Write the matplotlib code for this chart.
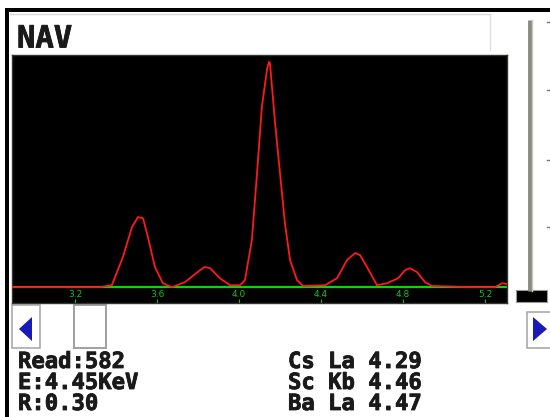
import matplotlib
matplotlib.use("Agg")
import matplotlib.pyplot as plt
import matplotlib.patheffects as pe
from matplotlib.patches import Rectangle, Polygon

# ---- data ----
energy = [2.893, 3.127, 3.322, 3.380, 3.434, 3.478, 3.507, 3.532, 3.556, 3.590,
          3.629, 3.673, 3.737, 3.810, 3.834, 3.859, 3.907, 3.956, 4.005, 4.029,
          4.063, 4.088, 4.112, 4.137, 4.146, 4.151, 4.176, 4.200, 4.224, 4.249,
          4.283, 4.312, 4.420, 4.478, 4.527, 4.566, 4.590, 4.624, 4.673, 4.722,
          4.776, 4.810, 4.834, 4.868, 4.907, 4.941, 5.127, 5.249, 5.283, 5.307]
counts = [0, 0, 0, 5, 78, 155, 181, 178, 129, 52,
          10, 0, 13, 44, 52, 49, 23, 5, 5, 18,
          122, 295, 468, 564, 582, 579, 424, 295, 165, 70,
          18, 3, 5, 23, 70, 88, 83, 52, 5, 10,
          23, 44, 49, 39, 13, 3, 0, 0, 10, 8]
tick_pos = [3.2, 3.6, 4.0, 4.4, 4.8, 5.2]
tick_labels = ["3.2", "3.6", "4.0", "4.4", "4.8", "5.2"]
title = "NAV"
left_info = ["Read:582", "E:4.45KeV", "R:0.30"]
right_info = ["Cs La 4.29", "Sc Kb 4.46", "Ba La 4.47"]

W, H = 550, 417
fig = plt.figure(figsize=(W / 100, H / 100), dpi=100)
fig.patch.set_facecolor("white")

# background UI layer in pixel coordinates
ui = fig.add_axes([0, 0, 1, 1])
ui.set_xlim(0, W)
ui.set_ylim(H, 0)
ui.axis("off")

# outer black frame
ui.add_patch(Rectangle((5, 8), W - 5, 4, color="black", lw=0))
ui.add_patch(Rectangle((5, 8), 4, H - 8, color="black", lw=0))
# faint inner bevel
ui.plot([10, 490], [14, 14], color="#d8d8d8", lw=1)
ui.plot([490, 490], [14, 50], color="#e0e0e0", lw=1)

mono = ["DejaVu Sans Mono"]
heavy = [pe.withStroke(linewidth=0.6, foreground="#1a1a1a")]
ui.text(17, 39, title, fontsize=22, fontweight="bold", family=mono,
        color="#1a1a1a", va="center", ha="left", path_effects=heavy)

# vertical slider on the right
ui.plot([530, 530], [20, 291], color="#8a8a80", lw=3.5, solid_capstyle="butt")
ui.plot([531.5, 531.5], [20, 291], color="#c8c8c0", lw=1)
ui.add_patch(Rectangle((516, 290), 31, 12, facecolor="black", edgecolor="#999999", lw=0.8))
for yy in [22, 90, 160, 227]:
    ui.plot([547, 550], [yy, yy], color="#777777", lw=1)

# horizontal scrollbar
ui.add_patch(Rectangle((12, 305), 28, 43, facecolor="white", edgecolor="#aaaaaa", lw=1.2))
ui.add_patch(Polygon([[32, 317], [32, 341], [19, 329]], closed=True, color="#1a1ab8", lw=0))
ui.add_patch(Rectangle((74, 305), 32, 43, facecolor="white", edgecolor="#a0a0a0", lw=1.4))
ui.add_patch(Rectangle((527, 312), 26, 36, facecolor="white", edgecolor="#aaaaaa", lw=1.2))
ui.add_patch(Polygon([[533, 317], [533, 341], [547, 329]], closed=True, color="#1a1ab8", lw=0))

# info text
for i, s in enumerate(left_info):
    ui.text(18, 362 + i * 21, s, fontsize=16, fontweight="bold", family=mono,
            color="#1a1a1a", va="center", ha="left", path_effects=heavy)
for i, s in enumerate(right_info):
    ui.text(288, 362 + i * 21, s, fontsize=16, fontweight="bold", family=mono,
            color="#1a1a1a", va="center", ha="left", path_effects=heavy)

# spectrum axes
x0, x1, y0, y1 = 12, 507, 55, 303
ax = fig.add_axes([x0 / W, 1 - y1 / H, (x1 - x0) / W, (y1 - y0) / H])
ax.set_facecolor("black")
ax.set_xlim(2.893, 5.307)
ax.set_ylim(-41, 600)
ax.axhline(0, color="#10d010", lw=1.6, zorder=2)
ax.plot(energy, counts, color="#ff1a1a", lw=1.3, zorder=3)
ax.set_xticks(tick_pos)
ax.set_xticklabels(tick_labels)
ax.tick_params(axis="x", direction="in", pad=-9.5, length=3, colors="#18c018",
               labelsize=6.5)
ax.set_yticks([])
for sp in ax.spines.values():
    sp.set_color("#303830")
    sp.set_linewidth(1)

fig.savefig("out.png", dpi=100, facecolor="white")
